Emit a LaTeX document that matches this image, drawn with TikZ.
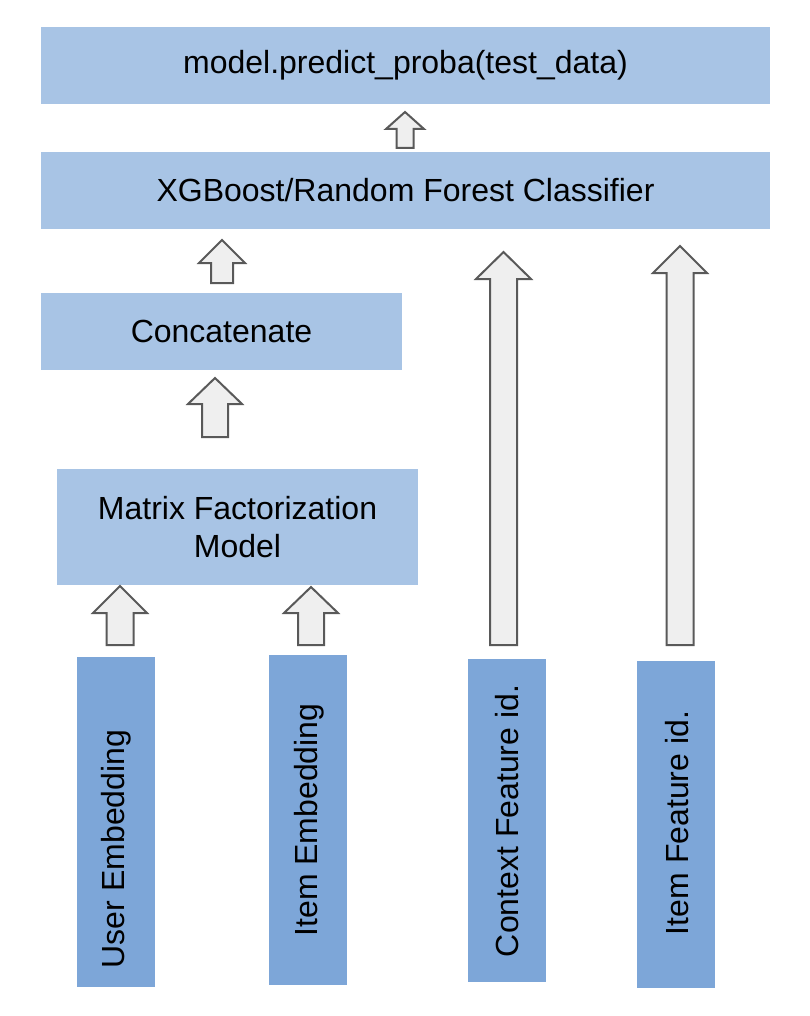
\documentclass[tikz,border=0pt]{standalone}
\usepackage{fontspec}
\setmainfont{Liberation Sans}
\definecolor{lightbox}{RGB}{168,196,229}
\definecolor{darkbox}{RGB}{125,166,216}
\definecolor{arrfill}{RGB}{239,239,239}
\definecolor{arrline}{RGB}{89,89,89}
\newcommand\blockarrow[6]{%
  \draw[blockarr] (#1-#6,#4) -- (#1-#6,#3) -- (#1-#5,#3) -- (#1,#2)
    -- (#1+#5,#3) -- (#1+#6,#3) -- (#1+#6,#4) -- cycle;}
\begin{document}
\begin{tikzpicture}[x=1pt,y=-1pt,
  lbox/.style={fill=lightbox, draw=none, inner sep=0pt, align=center,
    font=\fontsize{32}{38}\selectfont},
  dbox/.style={fill=darkbox, draw=none, inner sep=0pt},
  vlabel/.style={rotate=90, inner sep=0pt, font=\fontsize{32}{38}\selectfont},
  blockarr/.style={fill=arrfill, draw=arrline, line width=2pt, line join=miter}]
\useasboundingbox (0,0) rectangle (810,1016);
% main boxes
\node[lbox, minimum width=729pt, minimum height=77pt] (pred) at (405.5,65.5) {model.predict\_proba(test\_data)};
\node[lbox, minimum width=729pt, minimum height=77pt] (clf) at (405.5,190.5) {XGBoost/Random Forest Classifier};
\node[lbox, minimum width=361pt, minimum height=77pt] (cat) at (221.5,331.5) {Concatenate};
\node[lbox, minimum width=361pt, minimum height=116pt] (mf) at (237.5,527) {Matrix Factorization\\Model};
% bottom inputs
\node[dbox, minimum width=78pt, minimum height=330pt] (ue) at (116,822) {};
\node[dbox, minimum width=78pt, minimum height=330pt] (ie) at (307.5,820) {};
\node[dbox, minimum width=78pt, minimum height=323pt] (cf) at (507,820.5) {};
\node[dbox, minimum width=78pt, minimum height=327pt] (if) at (676,824.5) {};
\node[vlabel] (uet) at (116,849) {User Embedding};
\node[vlabel] (iet) at (309,820) {Item Embedding};
\node[vlabel] (cft) at (507,821) {Context Feature id.};
\node[vlabel] (ift) at (677,823) {Item Feature id.};
% block arrows: cx, tip, head base, bottom, head half-width, shaft half-width
\blockarrow{405}{112}{129}{148}{19}{8.5}
\blockarrow{222}{240}{263}{283}{23}{11}
\blockarrow{215}{378}{404}{437}{27}{13}
\blockarrow{120}{586}{613}{645}{27}{13.5}
\blockarrow{311}{587}{613}{645}{27}{13}
\blockarrow{503.5}{252}{279}{645}{27.5}{13.5}
\blockarrow{680}{246}{273}{645}{27}{13.5}
\end{tikzpicture}
\end{document}
